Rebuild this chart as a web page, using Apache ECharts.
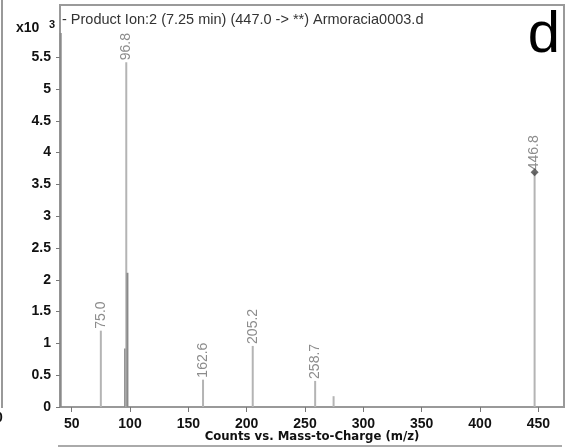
<!DOCTYPE html>
<html>
<head>
<meta charset="utf-8">
<script src="https://cdn.jsdelivr.net/npm/echarts@6/dist/echarts.min.js"></script>
<style>
  html, body { margin: 0; padding: 0; background: #fff; }
  #main { width: 570px; height: 448px; }
</style>
</head>
<body>
<div id="main"></div>
<script>
// peaks, m/z and counts (x10^3)
var peakMz     = [40.6, 75.0, 95.8, 96.8, 97.8, 162.6, 205.2, 258.7, 274.5, 446.8];
var peakCounts = [5.88, 1.20, 0.92, 5.42, 2.11, 0.43, 0.96, 0.41, 0.17, 3.69];
var peakLabels = ['', '75.0', '', '96.8', '', '162.6', '205.2', '258.7', '', '446.8'];
var darkPeaks  = [0, 2, 4];   // overlapping sticks look darker

var precursorMz = [446.8];
var precursorCounts = [3.69];

var xTicks = [50, 100, 150, 200, 250, 300, 350, 400, 450];
var yTicks = [0, 0.5, 1, 1.5, 2, 2.5, 3, 3.5, 4, 4.5, 5, 5.5];

var myChart = echarts.init(document.getElementById('main'));

var barData = peakMz.map(function (mz, i) {
    var item = {
        value: [mz, peakCounts[i]],
        itemStyle: { color: darkPeaks.indexOf(i) >= 0 ? '#8a8a8a' : '#b4b4b4' }
    };
    if (peakLabels[i]) {
        item.label = { show: true, formatter: peakLabels[i] };
    }
    return item;
});

var tickFont = { fontFamily: 'Liberation Sans', fontWeight: 'bold', fontSize: 14, color: '#111' };

var option = {
    animation: false,
    grid: {
        left: 60, right: 6, top: 5, bottom: 41,
        outerBoundsMode: 'none',
        containLabel: false,
        show: true, borderColor: '#9a9a9a', borderWidth: 2
    },
    xAxis: {
        type: 'value',
        min: 40, max: 472,
        splitLine: { show: false },
        axisLine: { lineStyle: { color: '#999', width: 2 } },
        axisTick: { length: 5, lineStyle: { color: '#777' }, customValues: xTicks },
        axisLabel: Object.assign({ margin: 10, customValues: xTicks }, tickFont),
        name: 'Counts vs. Mass-to-Charge (m/z)',
        nameLocation: 'middle',
        nameGap: 30,
        nameMoveOverlap: false,
        nameTextStyle: {
            fontFamily: "'Liberation Sans Narrow', 'DejaVu Sans Condensed', 'Liberation Sans', sans-serif",
            fontWeight: 'bold', fontSize: 13, color: '#111',
            verticalAlign: 'middle'
        }
    },
    yAxis: {
        type: 'value',
        min: 0, max: 6.32,
        splitLine: { show: false },
        axisLine: { show: true, lineStyle: { color: '#999', width: 2 } },
        axisTick: { show: true, length: 4, lineStyle: { color: '#777' }, customValues: yTicks },
        axisLabel: Object.assign({ margin: 9, customValues: yTicks }, tickFont)
    },
    series: [{
        type: 'bar',
        barWidth: 2,
        data: barData,
        label: {
            show: false,
            position: 'top',
            rotate: 90,
            align: 'left',
            verticalAlign: 'middle',
            distance: 2,
            color: '#8c8c8c',
            fontFamily: 'Liberation Sans',
            fontSize: 14
        }
    }, {
        type: 'scatter',
        symbol: 'diamond',
        symbolSize: 8,
        itemStyle: { color: '#444' },
        data: precursorMz.map(function (mz, i) { return [mz, precursorCounts[i]]; })
    }],
    graphic: [
        { type: 'text', left: 16, top: 21, style: { text: 'x10', fontFamily: 'Liberation Sans', fontWeight: 'bold', fontSize: 14, fill: '#111' } },
        { type: 'text', left: 49, top: 19, style: { text: '3', fontFamily: 'Liberation Sans', fontWeight: 'bold', fontSize: 11, fill: '#111' } },
        { type: 'text', left: 62, top: 12, style: { text: '- Product Ion:2 (7.25 min) (447.0 -> **) Armoracia0003.d', fontFamily: 'Liberation Sans', fontSize: 14.5, fill: '#333' } },
        { type: 'text', right: 10, top: 7, style: { text: 'd', fontFamily: 'Liberation Sans', fontSize: 58, fill: '#000' } },
        // edges of neighbouring panels in the figure
        { type: 'line', shape: { x1: 2, y1: 0, x2: 2, y2: 408 }, style: { stroke: '#999', lineWidth: 2 } },
        { type: 'line', shape: { x1: 58, y1: 446, x2: 562, y2: 446 }, style: { stroke: '#aaa', lineWidth: 2 } },
        { type: 'text', left: -5, top: 411, style: { text: '0', fontFamily: 'Liberation Sans', fontWeight: 'bold', fontSize: 14, fill: '#111' } }
    ]
};
myChart.setOption(option);
</script>
</body>
</html>
